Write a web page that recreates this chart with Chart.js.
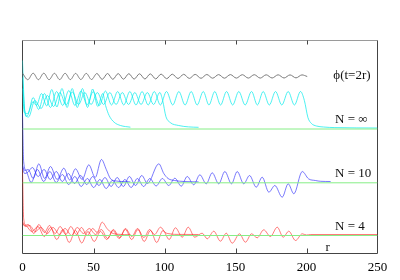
<!DOCTYPE html>
<html><head><meta charset="utf-8">
<script src="https://cdn.jsdelivr.net/npm/chart.js@4/dist/chart.umd.min.js"></script>
<style>html,body{margin:0;padding:0;background:#fff;}canvas{display:block;}</style>
</head><body>
<canvas id="c" width="400" height="280"></canvas>
<script>
// x axis ticks (r)
const xTicks = [0, 50, 100, 150, 200, 250];
// flat reference levels (green)
const baseInf = 124.5, baseTen = 70.7, baseFour = 18;

// phi(t=2r) trace: [r, value]
const phiTrace = [[0,180.3],[3.7,173.8],[7.5,180.3],[11.2,173.8],[15,180.3],[18.7,173.8],[22.5,180.2],[26.2,173.9],[30,180.2],[33.7,173.9],[37.4,180.1],[41.1,174],[44.9,180.1],[48.6,174],[52.4,180],[56.1,174.1],[59.9,180],[63.6,174.2],[67.4,179.9],[71.1,174.3],[74.9,179.8],[78.6,174.4],[82.4,179.7],[86.2,174.5],[90,179.6],[93.8,174.6],[97.6,179.4],[101.5,174.8],[105.5,179.3],[109.5,175],[113.5,179.2],[117.5,175.1],[121.6,179.1],[125.7,175.2],[129.8,179],[133.9,175.3],[138.1,178.9],[142.2,175.3],[146.4,178.9],[150.6,175.4],[154.8,178.8],[159,175.4],[163.2,178.8],[167.4,175.4],[171.6,178.7],[175.8,175.5],[180,178.7],[184.2,175.5],[188.4,178.6],[192.6,175.6],[196.8,178.6],[200.5,177]];

// N = infinity traces
const cyanA = [[0,165],[1.2,141],[3.5,140],[7.5,152],[9.8,148],[13.4,160],[17,147.5],[20.6,164],[24.2,146.5],[27.8,165],[31.4,146],[35,165],[38.6,146],[42.2,165],[45.8,146],[49.4,164.5],[53,147],[56.5,160],[58.5,148],[61,138],[64.5,131.3],[69,128],[76,126.3]];
const cyanB = [[0,176],[1.5,143],[4.3,136.5],[8.7,153],[13.1,145],[17.5,158],[21.9,147],[26.3,161],[30.7,148.5],[35.1,161.5],[39.5,149],[43.9,161],[48.3,149],[52.7,161],[57.1,149],[61.5,161],[65.9,149],[70.3,161],[74.7,149],[79.1,161],[83.5,149],[87.9,161],[92.3,149],[96.7,161],[98.7,153],[101,137],[104,131],[110,128],[117,126.6],[124,126.2]];
const cyanC = [[0,193],[1.2,150],[2.5,137],[4,139],[7.5,156],[11.4,144],[15.4,160],[19.7,146],[24,162],[28.3,148],[32.6,163],[36.9,148],[41.2,162.5],[45.5,148.5],[49.8,162],[54.1,148],[58.4,162.5],[62.7,148.5],[67,162],[71.3,148.5],[75.6,162],[79.9,148.5],[84.2,162],[88.5,148.5],[92.8,162],[97.1,148.5],[101.4,162],[105.8,148.5],[110.1,162],[114.5,148.5],[118.8,162],[123,148.5],[127.3,162],[131.3,148.5],[135.4,162],[139.5,148.5],[143.7,162],[148,148.5],[152.3,162],[156.8,148.5],[161.3,162],[165.4,148.5],[169.5,162],[173.8,148.5],[178.2,162],[182.6,148.5],[187.1,162],[191.5,148.5],[195.8,162],[198.5,153],[201,136],[203.5,130],[207,127.5],[212,126.5],[220,125.9],[250,125.5]];

// N = 10 traces
const blueA = [[0,88],[1.5,83],[4,84],[7.5,75],[11.5,89.7],[15.6,75],[19.7,87],[24.4,74],[29.1,85.3],[33.2,73.5],[37.3,84.7],[42,74],[46.7,88.7],[51.2,76],[55.6,94],[59,84],[62,74.7],[66,72.5],[70,72],[76,71.6]];
const blueB = [[0,86],[1.5,80],[3.5,81],[7,86],[11,77],[15.2,84],[19.5,74],[23.8,82],[28,72],[32.3,80],[36.6,70],[40.9,78],[45.2,69],[49.5,77],[53.8,68],[58.1,76],[62.4,67],[66.7,76],[71,67],[75.3,77],[79.6,68],[84,78],[88,70],[96,89.7],[99.5,80],[102.5,75],[107,73],[114,72],[124,71.6]];
const blueC = [[0,140],[0.8,92],[2.5,83],[6.1,71],[10.5,84],[14.9,72],[19.3,82],[23.7,71],[28.1,79],[32.5,69],[36.9,77],[41.3,67],[45.7,75],[50.1,66],[54.5,74],[58.9,65],[63.3,73],[67.7,66],[72.1,74],[76.5,66],[80.9,75],[85.3,67],[89.7,75],[94.1,67.5],[98.5,75],[103,68],[107.3,75.3],[111.8,67.3],[116,77],[120.6,68.7],[124.9,78.7],[129.4,69.7],[133.6,80.7],[138.2,69.7],[142.5,82],[147.2,69.7],[151.2,82],[155.8,69.7],[159.9,78],[164.6,66.3],[168.8,76.3],[173.5,61.3],[177.7,68],[182.9,56.3],[187.1,69.7],[191.1,59.7],[197,82],[201.4,74.7],[206.3,73],[210,72.2],[217,72]];

// N = 4 traces
const redA = [[0,32],[1.5,28],[4,29],[8,20],[11.5,29],[15.5,21],[19,28],[23,20],[26.5,27],[30.5,19],[34,27],[38,19],[41.5,26],[45.5,18],[49.5,25],[52.5,21],[56.1,31.3],[59.5,25],[63,20.5],[68,19.2],[76,18.8]];
const redB = [[0,30],[2,27],[5,28],[9,22],[13,26],[17.5,20],[21.5,26],[26,19],[30,25],[34.5,18],[38.5,26],[43,20],[47,25],[51.5,19],[55.5,24],[60,15],[64,24],[68.5,16],[72.5,25],[77,17],[81,25],[85.5,16],[89.5,24],[93,19],[97.2,26.3],[100.5,21],[104,19.6],[110,19.1],[124,19]];
const redC = [[0,85],[0.8,35],[2.5,28],[6.5,22],[10.9,27],[15.3,17],[19.7,26],[24.1,14],[28.5,24],[32.9,11],[37.3,23],[41.7,10.5],[46.1,22],[50.5,12],[54.9,22],[59.3,14],[63.7,23],[68.1,15],[72.5,24],[76.9,14],[81.3,24],[85.7,12],[90.1,23],[94.5,11],[98.9,23],[103.3,14],[107.7,25.7],[112.5,16.3],[116.7,26.3],[121.3,16.3],[126.5,20.3],[130.1,14.7],[134.7,22.3],[139.4,12.3],[143.5,20.3],[147.7,10.3],[152.8,19.7],[157,11.3],[161.3,19.7],[165.3,15.7],[169.9,23.7],[174.6,17],[179.4,26.3],[183.6,16.3],[187.5,22.3],[192.3,13],[197,19.7],[200,18.5],[203,19],[250,19]];

const labelTexts = ['\u03d5(t=2r)', 'N = \u221e', 'N = 10', 'N = 4', 'r'];

const GREEN = '#86ee86', CYAN = 'rgba(0,235,235,0.7)', BLUE = 'rgba(40,40,250,0.62)', RED = 'rgba(255,40,40,0.62)', GREY = '#7a7a7a';
const mk = (pairs, color) => ({
  data: pairs.map(([x, y]) => ({x, y})),
  borderColor: color, borderWidth: 1, pointRadius: 0, fill: false,
  cubicInterpolationMode: 'monotone'
});
const flat = (b) => mk([[xTicks[0], b], [xTicks[xTicks.length - 1], b]], GREEN);

const framePlugin = {
  id: 'frame',
  beforeDatasetsDraw(chart) {
    const {ctx, chartArea: a, scales: {x}} = chart;
    ctx.save();
    ctx.lineWidth = 1;
    ctx.strokeStyle = '#9a9a9a';
    ctx.beginPath(); ctx.moveTo(a.left, a.top); ctx.lineTo(a.right, a.top); ctx.stroke();
    ctx.strokeStyle = '#444';
    ctx.beginPath();
    ctx.moveTo(a.left, a.top); ctx.lineTo(a.left, a.bottom); ctx.lineTo(a.right, a.bottom); ctx.lineTo(a.right, a.top);
    ctx.stroke();
    ctx.beginPath();
    xTicks.slice(1, -1).forEach(v => {
      const px = Math.round(x.getPixelForValue(v)) + 0.5;
      ctx.moveTo(px, a.top); ctx.lineTo(px, a.top + 4);
      ctx.moveTo(px, a.bottom); ctx.lineTo(px, a.bottom - 5);
    });
    ctx.stroke();
    ctx.restore();
  },
  afterDatasetsDraw(chart) {
    const {ctx, scales: {x, y}} = chart;
    const pos = [[218.9, 177.8, 'left'], [220.1, 133.5, 'left'], [220.1, 80.2, 'left'], [220.1, 26.8, 'left'], [214.9, 6.2, 'center']];
    ctx.save();
    ctx.fillStyle = '#111';
    ctx.font = '13px "Liberation Serif", "DejaVu Serif", serif';
    ctx.textBaseline = 'middle';
    labelTexts.forEach((t, i) => {
      ctx.textAlign = pos[i][2];
      ctx.fillText(t, x.getPixelForValue(pos[i][0]), y.getPixelForValue(pos[i][1]));
    });
    ctx.restore();
  }
};

new Chart(document.getElementById('c'), {
  type: 'line',
  data: {
    datasets: [
      flat(baseInf), flat(baseTen), flat(baseFour),
      mk(phiTrace, GREY),
      mk(cyanA, CYAN), mk(cyanB, CYAN), mk(cyanC, CYAN),
      mk(blueA, BLUE), mk(blueB, BLUE), mk(blueC, BLUE),
      mk(redA, RED), mk(redB, RED), mk(redC, RED)
    ]
  },
  options: {
    responsive: false, animation: false, devicePixelRatio: 1,
    layout: {padding: {left: 22.5, right: 22.5, top: 40.5, bottom: 0}},
    plugins: {legend: {display: false}, tooltip: {enabled: false}},
    scales: {
      x: {
        type: 'linear', min: xTicks[0], max: xTicks[xTicks.length - 1],
        afterBuildTicks: s => { s.ticks = xTicks.map(v => ({value: v})); },
        afterFit: s => { s.height = 26.5; },
        grid: {display: false}, border: {display: false},
        ticks: {padding: -2, color: '#000', font: {family: '"Liberation Serif", serif', size: 13}, maxRotation: 0}
      },
      y: {type: 'linear', min: 0, max: 213, display: false}
    }
  },
  plugins: [framePlugin]
});
</script>
</body></html>
